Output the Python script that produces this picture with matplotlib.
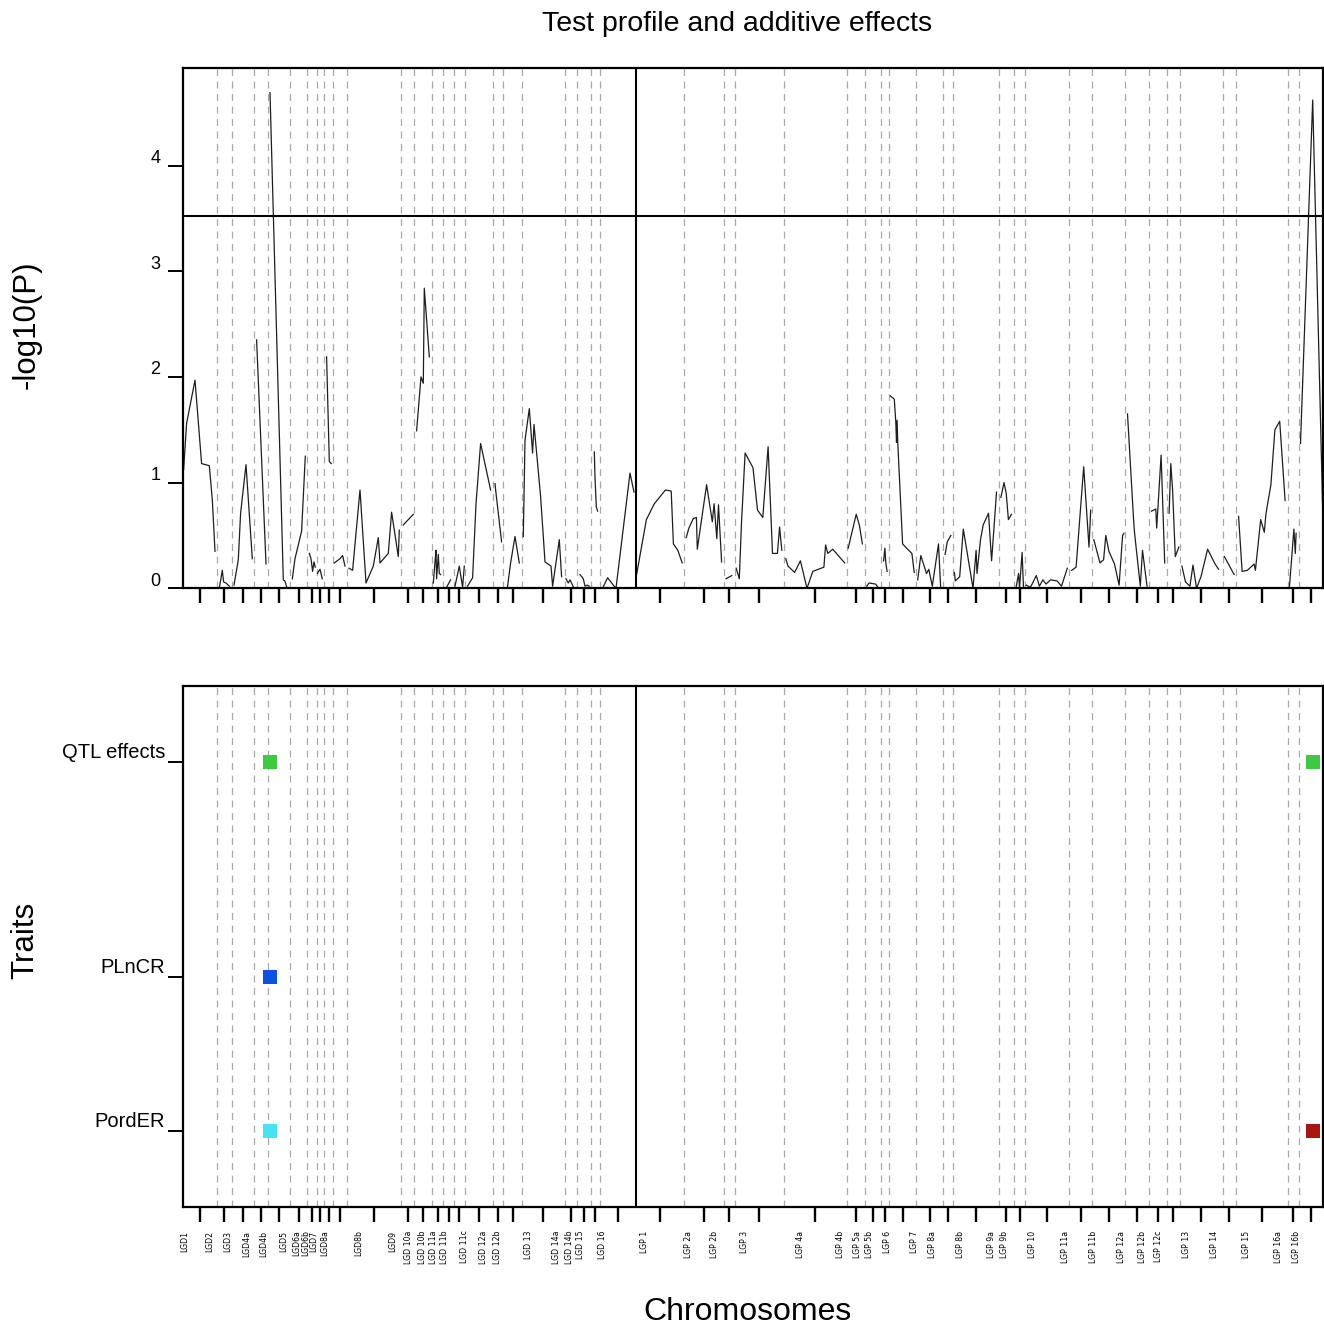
import numpy as np
import matplotlib
matplotlib.use("Agg")
import matplotlib.pyplot as plt
import matplotlib.transforms as mtransforms

plt.rcParams['font.family'] = ['Liberation Sans', 'DejaVu Sans']

# linkage groups of the two parental maps (lengths in cM)
LGD_NAMES = ["LGD1", "LGD2", "LGD3", "LGD4a", "LGD4b", "LGD5", "LGD6a", "LGD6b",
             "LGD7", "LGD8a", "LGD8b", "LGD9", "LGD 10a", "LGD 10b", "LGD 11a",
             "LGD 11b", "LGD 11c", "LGD 12a", "LGD 12b", "LGD 13", "LGD 14a",
             "LGD 14b", "LGD 15", "LGD 16"]
LGD_LENGTHS = [33.4, 15.3, 22.3, 14.0, 21.7, 17.3, 9.4, 7.3, 9.3, 13.4, 54.3, 13.3,
               17.4, 11.6, 10.4, 11.3, 28.3, 10.0, 18.4, 43.3, 12.3, 13.4, 9.3, 35.7]

LGP_NAMES = ["LGP 1", "LGP 2a", "LGP 2b", "LGP 3", "LGP 4a", "LGP 4b", "LGP 5a",
             "LGP 5b", "LGP 6", "LGP 7", "LGP 8a", "LGP 8b", "LGP 9a", "LGP 9b",
             "LGP 10", "LGP 11a", "LGP 11b", "LGP 12a", "LGP 12b", "LGP 12c",
             "LGP 13", "LGP 14", "LGP 15", "LGP 16a", "LGP 16b"]
LGP_LENGTHS = [48.3, 39.8, 11.1, 49.1, 62.8, 17.7, 16.4, 7.9, 27.5, 26.5, 10.2, 45.6,
               15.4, 11.0, 44.4, 23.0, 32.3, 24.3, 17.7, 12.9, 43.3, 13.1, 52.0, 11.0,
               24.5]

# test profile: cumulative position (cM) and -log10(P)
PROFILE_POS = [
    0.3, 3.3, 11.7, 18.3, 26.0, 29.0, 31.7,
    36.0, 39.0, 40.3, 42.7, 46.0,
    50.7, 55.0, 57.3, 62.7, 69.0,
    73.3, 82.7,
    86.7, 100.0, 101.5, 103.5,
    109.0, 111.7, 118.3, 122.0,
    126.0, 127.7, 129.3, 130.7, 132.0,
    134.0, 136.7, 139.0,
    143.3, 146.0, 148.0,
    151.0, 156.7, 159.3, 161.7,
    165.7, 169.3, 176.7, 182.7, 190.0, 195.0, 196.7, 205.0, 208.3, 215.0, 216.0,
    220.0, 230.0,
    233.3, 237.7, 240.0, 241.0, 246.0,
    250.0, 251.7, 252.7, 253.3, 255.0, 256.0, 257.3,
    263.3, 267.3,
    271.7, 276.0, 279.3, 281.0,
    284.3, 289.3, 292.7, 297.3, 307.3,
    311.7, 312.7, 318.3,
    324.0, 327.3, 331.7, 336.0,
    340.0, 341.7, 346.0, 349.3, 350.7, 357.3, 361.7, 367.7, 369.3, 376.0, 378.3,
    382.7, 385.0, 386.7, 390.7,
    396.7, 400.0, 401.7, 404.0, 406.0,
    411.0, 411.7, 413.0, 414.3,
    419.3, 424.3, 430.0, 432.7, 446.7, 450.7,
    453.3, 463.1, 471.0, 482.1, 487.9, 490.1, 494.5, 498.9,
    502.9, 505.6, 510.0, 513.1, 514.0, 523.3, 529.0, 530.8, 533.5, 535.2, 538.3,
    542.7, 548.5,
    552.9, 556.0, 558.2, 561.8, 569.7, 574.2, 579.5, 584.8, 589.2, 594.1, 596.3, 598.5,
    602.5, 604.7, 611.3, 617.1, 623.7, 629.5, 640.6, 642.3, 644.5, 649.4, 661.4,
    664.9, 672.9, 676.0, 679.1,
    683.5, 685.7, 692.3, 695.4,
    700.3, 701.6, 702.5, 703.8,
    707.0, 711.0, 712.5, 713.2, 713.8, 714.5, 719.3, 723.3, 728.6, 730.9,
    734.4, 737.5, 743.2, 745.5, 749.0, 755.2, 757.4,
    761.8, 764.0, 767.6,
    771.1, 772.0, 776.4, 780.0, 789.7, 792.8, 793.7, 797.2, 799.9, 805.2, 808.3, 810.5, 813.2,
    817.6, 820.7, 822.9, 825.1, 828.2,
    832.6, 835.3, 836.2, 838.8, 840.2,
    842.8, 847.2, 853.0, 856.1, 859.6, 862.7, 867.2, 873.8, 878.2, 884.0,
    888.4, 892.8, 900.4, 905.7, 907.4,
    910.5, 916.7, 920.3, 922.5, 925.6, 931.2, 935.8, 939.3, 940.6,
    944.2, 950.4, 951.3, 957.0, 959.2, 963.7,
    968.1, 972.5, 973.4, 977.8, 981.4,
    985.8, 987.5, 989.3, 992.0, 995.5,
    998.6, 1002.2, 1006.6, 1009.7, 1013.2, 1017.7, 1024.3, 1031.8, 1035.3,
    1041.1, 1050.8,
    1055.3, 1058.8, 1064.1, 1070.8, 1072.1, 1077.4, 1081.0, 1082.7, 1087.6, 1091.6, 1096.4, 1101.8,
    1106.2, 1110.6, 1112.0, 1112.8,
    1117.2, 1129.4, 1139.5,
]
PROFILE_VAL = [
    1.12, 1.56, 1.97, 1.18, 1.16, 0.84, 0.35,
    0.00, 0.17, 0.06, 0.05, 0.02,
    0.03, 0.27, 0.71, 1.17, 0.28,
    2.35, 0.23,
    4.69, 0.08, 0.07, 0.01,
    0.09, 0.28, 0.54, 1.25,
    0.33, 0.28, 0.16, 0.25, 0.20,
    0.14, 0.18, 0.09,
    2.19, 1.20, 1.18,
    0.24, 0.28, 0.31, 0.21,
    0.19, 0.17, 0.93, 0.05, 0.21, 0.48, 0.24, 0.33, 0.72, 0.30, 0.55,
    0.60, 0.70,
    1.49, 2.00, 1.94, 2.84, 2.19,
    0.05, 0.25, 0.36, 0.09, 0.32, 0.14, 0.13,
    0.01, 0.08,
    0.02, 0.21, 0.01, 0.21,
    0.02, 0.10, 0.80, 1.37, 0.93,
    0.99, 0.90, 0.44,
    0.00, 0.24, 0.49, 0.24,
    0.49, 1.40, 1.70, 1.28, 1.55, 0.87, 0.25, 0.21, 0.02, 0.46, 0.11,
    0.09, 0.05, 0.08, 0.00,
    0.13, 0.09, 0.02, 0.03, 0.02,
    1.29, 1.05, 0.77, 0.73,
    0.00, 0.10, 0.03, 0.00, 1.09, 0.91,
    0.13, 0.65, 0.80, 0.93, 0.92, 0.42, 0.36, 0.24,
    0.48, 0.57, 0.66, 0.67, 0.37, 0.98, 0.63, 0.80, 0.47, 0.79, 0.25,
    0.09, 0.12,
    0.19, 0.09, 0.62, 1.28, 1.14, 0.74, 0.67, 1.34, 0.33, 0.33, 0.58, 0.36,
    0.28, 0.21, 0.15, 0.26, 0.00, 0.16, 0.20, 0.41, 0.33, 0.37, 0.24,
    0.38, 0.70, 0.60, 0.42,
    0.02, 0.05, 0.04, 0.00,
    0.26, 0.38, 0.24, 0.16,
    1.82, 1.79, 1.57, 1.38, 1.59, 1.37, 0.42, 0.38, 0.33, 0.15,
    0.08, 0.31, 0.14, 0.18, 0.02, 0.42, 0.00,
    0.32, 0.44, 0.50,
    0.15, 0.07, 0.11, 0.56, 0.00, 0.36, 0.14, 0.46, 0.60, 0.71, 0.26, 0.55, 0.91,
    0.86, 1.00, 0.90, 0.65, 0.70,
    0.00, 0.14, 0.00, 0.34, 0.00,
    0.03, 0.01, 0.12, 0.02, 0.08, 0.04, 0.08, 0.07, 0.02, 0.19,
    0.17, 0.20, 1.15, 0.39, 0.74,
    0.46, 0.24, 0.27, 0.50, 0.35, 0.23, 0.03, 0.50, 0.52,
    1.65, 0.63, 0.52, 0.02, 0.36, 0.02,
    0.73, 0.75, 0.57, 1.26, 0.24,
    0.71, 1.18, 0.93, 0.30, 0.39,
    0.21, 0.06, 0.02, 0.22, 0.00, 0.11, 0.37, 0.23, 0.18,
    0.30, 0.13,
    0.68, 0.16, 0.17, 0.23, 0.17, 0.65, 0.53, 0.71, 0.98, 1.50, 1.58, 0.83,
    0.02, 0.56, 0.33, 0.52,
    1.37, 4.62, 0.70,
]
THRESHOLD = 3.52

TRAITS = ["QTL effects", "PLnCR", "PordER"]
TRAIT_LEVEL = [0.854, 0.441, 0.146]

# additive effects found at the significant peaks
EFFECT_TRAIT = ["QTL effects", "PLnCR", "PordER", "QTL effects", "PordER"]
EFFECT_POS = [86.7, 86.7, 86.7, 1129.4, 1129.4]
EFFECT_COLOR = ["#3fc940", "#0b52df", "#48e2f4", "#3fc940", "#a8170f"]

names = LGD_NAMES + LGP_NAMES
lengths = np.array(LGD_LENGTHS + LGP_LENGTHS)
ends = np.cumsum(lengths)
starts = ends - lengths
centers = starts + lengths / 2
total = ends[-1]
split = ends[len(LGD_NAMES) - 1]
bounds = [b for b in ends[:-1] if b != split]

W, H = 1324, 1328
fig = plt.figure(figsize=(W / 100, H / 100), dpi=100)
left = 183.3 / W
width = total / W
ax1 = fig.add_axes([left, 1 - 588.3 / H, width, 520 / H])
ax2 = fig.add_axes([left, 1 - 1207 / H, width, 521 / H])

for ax in (ax1, ax2):
    for b in bounds:
        ax.axvline(b, color="#a8a8a8", lw=0.9, ls=(0, (5.5, 4.5)), zorder=1)
    ax.axvline(split, color="black", lw=1.5, zorder=3)
    ax.set_xlim(0, total)
    ax.set_xticks(centers)
    ax.tick_params(axis="x", length=11, width=1.7, direction="out")
    ax.tick_params(axis="y", length=11, width=1.4, direction="out")
    for sp in ax.spines.values():
        sp.set_linewidth(1.6)

# profile, one line per linkage group
pos = np.array(PROFILE_POS)
val = np.array(PROFILE_VAL)
chrom = np.searchsorted(ends, pos)
for c in np.unique(chrom):
    m = chrom == c
    ax1.plot(pos[m], val[m], color="#1e1e1e", lw=0.9, zorder=2)
ax1.axhline(THRESHOLD, color="black", lw=1.5, zorder=3)
ax1.set_ylim(0, 4.92)
ax1.set_yticks([0, 1, 2, 3, 4])
ax1.tick_params(axis="x", labelbottom=False)
ax1.tick_params(axis="y", labelsize=13, pad=5.5)
up1 = mtransforms.ScaledTranslation(0, 2.5 / 100, fig.dpi_scale_trans)
for lab in ax1.get_yticklabels():
    lab.set_verticalalignment("baseline")
    lab.set_transform(lab.get_transform() + up1)

# trait effects
ax2.set_ylim(0, 1)
ax2.set_yticks(TRAIT_LEVEL)
ax2.set_yticklabels(TRAITS, fontsize=14.5)
ax2.tick_params(axis="y", pad=2)
up2 = mtransforms.ScaledTranslation(0, 4 / 100, fig.dpi_scale_trans)
for lab in ax2.get_yticklabels():
    lab.set_verticalalignment("baseline")
    lab.set_transform(lab.get_transform() + up2)
level = dict(zip(TRAITS, TRAIT_LEVEL))
for t, p, col in zip(EFFECT_TRAIT, EFFECT_POS, EFFECT_COLOR):
    ax2.plot(p, level[t], marker="s", ms=10.5, mew=0, color=col, zorder=4)

ax2.set_xticklabels(names, rotation=90, fontsize=5.6, fontfamily="Liberation Sans Narrow")
ax2.tick_params(axis="x", pad=6)
shift = mtransforms.ScaledTranslation(-15 / 100, 0, fig.dpi_scale_trans)
for lab in ax2.get_xticklabels():
    lab.set_transform(lab.get_transform() + shift)

fig.text(737 / W, 1 - 31 / H, "Test profile and additive effects", ha="center",
         va="baseline", fontsize=20.5)
fig.text(747 / W, 1 - 1320 / H, "Chromosomes", ha="center", va="baseline", fontsize=23)
fig.text(27 / W, 1 - 325 / H, "-log10(P)", rotation=90, ha="center", va="center",
         fontsize=22.5)
fig.text(25 / W, 1 - 940 / H, "Traits", rotation=90, ha="center", va="center",
         fontsize=22.5)

fig.savefig("out.png", dpi=100)
